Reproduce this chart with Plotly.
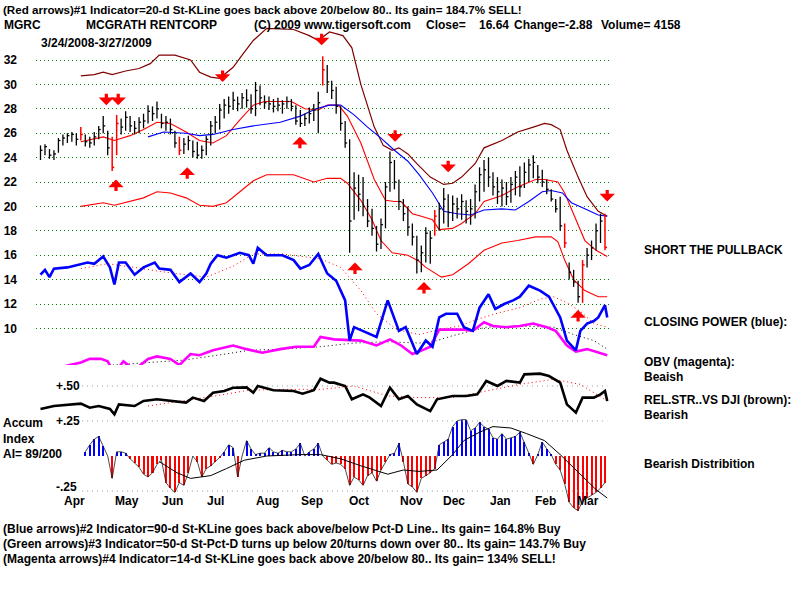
import plotly.graph_objects as go

# ---------------- data (trading-day index 0 = 3/24/2008 ... 253 = 3/27/2009) ----------------
bar_day = list(range(0, 253, 2))
bar_high = [25.0,25.1,24.7,24.6,25.6,25.9,26.0,26.1,26.0,26.5,25.9,25.7,26.1,26.6,27.4,26.2,25.7,27.5,27.2,27.8,
            27.4,27.0,27.3,27.6,28.3,28.2,28.6,27.6,27.4,27.2,26.2,25.7,25.6,25.8,25.4,25.3,25.0,25.8,27.0,27.4,
            28.4,28.8,29.0,29.4,29.0,29.3,29.6,29.2,30.2,29.9,29.1,29.0,28.8,28.9,28.7,29.0,28.8,28.3,27.9,27.6,
            28.1,28.4,29.4,32.3,31.6,30.3,29.8,28.2,27.0,25.5,22.8,22.6,22.4,20.6,19.8,18.4,19.0,22.0,24.5,23.8,
            22.2,20.6,20.0,18.6,17.6,16.8,18.3,18.0,19.7,20.3,21.5,21.0,20.9,20.7,21.0,20.5,20.6,21.8,23.2,23.8,
            24.0,22.8,22.4,22.2,22.0,22.4,22.9,23.3,23.6,23.9,24.2,23.4,23.0,22.2,21.4,20.6,20.8,18.6,15.4,14.8,
            13.9,15.6,16.6,17.2,18.6,19.4,19.4]
bar_low = [23.8,24.2,23.9,23.8,24.4,25.0,25.2,25.3,25.0,25.4,24.9,24.8,25.0,25.5,26.0,24.2,22.9,24.2,25.9,26.2,
           26.1,25.9,26.0,26.4,26.8,27.0,27.2,26.4,26.2,25.9,24.8,24.2,24.3,24.6,24.0,23.9,23.9,24.2,25.0,26.0,
           26.3,27.2,27.6,27.9,27.8,28.0,28.1,27.6,27.4,28.3,28.0,27.9,27.7,27.8,27.6,28.0,27.8,26.7,26.5,26.6,
           26.8,27.0,26.0,29.9,29.3,28.8,27.6,26.2,24.8,16.2,18.9,19.6,19.2,18.3,17.6,16.3,16.5,18.2,21.2,21.4,
           19.7,18.8,17.6,16.8,14.5,14.6,15.4,15.3,17.6,18.0,18.6,18.3,18.8,19.0,18.9,18.6,18.5,19.0,20.4,21.2,
           21.6,20.9,20.2,20.0,20.1,20.3,20.9,20.8,21.5,22.0,22.3,21.9,21.6,21.0,20.4,19.5,18.0,16.6,14.0,13.4,
           12.1,12.1,15.0,15.6,16.4,17.0,16.4]
bar_close = [24.6,24.9,24.2,24.3,25.4,25.6,25.8,25.9,25.5,25.9,25.3,25.2,25.7,26.3,26.6,24.8,23.2,26.8,26.5,27.3,
             26.6,26.4,26.9,27.0,27.8,27.6,28.0,26.8,26.9,26.3,25.2,24.6,25.1,25.4,24.5,24.2,24.6,25.5,26.6,26.9,
             27.9,28.3,28.2,28.7,28.4,28.9,28.7,28.0,29.5,28.9,28.5,28.4,28.2,28.3,28.4,28.6,28.2,27.0,26.8,27.2,
             27.6,27.9,28.5,31.2,30.2,29.5,28.2,26.8,25.2,18.8,21.5,21.0,20.0,18.8,18.2,16.9,18.5,21.6,23.6,22.0,
             20.4,19.4,18.3,17.5,15.6,16.2,17.8,17.4,19.2,19.8,20.6,19.5,20.2,19.8,20.4,19.6,19.8,21.2,22.6,23.0,
             22.4,21.6,21.2,21.5,20.8,21.8,22.4,21.6,22.8,23.4,23.6,22.4,22.0,21.4,20.6,19.8,18.4,17.0,14.6,13.8,
             12.6,15.2,16.0,16.6,18.0,18.8,16.64]
red_bar_days = [18, 32, 34, 62, 126, 176, 234, 242, 252]

upper_day = [18,24,28,32,38,44,49,53,60,67,71,76,80,86,90,95,101,113,120,124,129,135,139,143,149,153,157,160,
             164,168,174,180,184,188,194,198,206,213,220,225,228,232,235,240,244,249,253]
upper_band = [30.7,30.8,31.0,30.8,31.1,31.3,31.7,32.4,32.4,32.0,31.0,30.6,30.5,31.4,32.4,33.6,34.6,34.5,34.0,33.6,
              34.3,34.0,33.0,30.0,26.5,25.0,24.6,24.8,24.3,23.5,22.4,21.8,21.9,22.4,23.5,24.8,25.4,26.1,26.5,26.8,
              26.7,26.3,24.6,22.4,20.8,19.6,19.2]
lower_day = [18,28,33,40,46,52,58,65,71,77,83,89,95,101,113,122,128,134,137,143,148,152,157,164,169,172,179,184,
             191,198,206,213,221,228,231,234,238,243,249,253]
lower_band = [20.0,20.3,20.1,20.4,20.7,21.2,21.1,20.7,20.1,20.0,20.3,21.2,22.1,22.6,22.6,22.0,22.3,22.3,21.9,20.5,
              18.9,17.2,16.2,16.0,15.5,15.0,14.2,14.4,15.3,16.4,17.0,17.2,17.5,17.5,17.1,15.6,14.0,13.1,12.6,12.6]
ma21_day = [18,28,33,40,46,52,58,65,71,77,83,89,95,100,112,118,124,128,133,137,143,149,154,158,161,166,170,175,
            178,184,188,194,198,206,213,221,225,231,234,239,243,248,253]
ma21 = [25.3,25.7,25.4,25.8,26.3,26.9,26.8,26.1,25.4,25.2,25.8,27.1,28.3,28.6,28.6,28.0,27.9,28.3,28.3,27.4,
        25.2,22.2,20.5,20.4,20.4,19.4,19.2,18.9,18.1,18.2,18.6,19.4,20.4,20.9,21.6,22.2,22.2,22.0,21.1,18.9,
        17.2,16.4,15.9]
ma50_day = [48,55,65,71,77,86,95,107,116,123,129,134,140,146,152,158,164,169,175,180,186,192,198,206,212,218,
            224,228,233,237,243,249,253]
ma50 = [25.7,26.1,26.0,25.8,25.9,26.3,26.6,26.9,27.4,28.0,28.3,28.3,27.5,26.5,25.6,24.6,23.7,22.6,21.1,19.6,
        19.4,19.3,19.7,19.8,19.7,20.4,21.2,21.3,21.1,20.3,19.8,19.3,19.2]

cp_day = [0,2,4,6,12,18,21,24,28,31,33,35,38,42,46,51,53,58,62,67,71,74,76,79,83,89,93,95,97,101,108,113,116,
          120,124,128,132,136,138,140,144,150,155,160,163,168,172,175,178,181,186,189,193,196,200,203,207,211,
          214,218,223,227,232,235,239,241,244,247,249,252,253]
closing_power = [14.4,14.8,14.2,14.9,15.0,15.3,15.4,15.3,15.9,15.0,13.6,15.4,15.4,14.4,15.0,15.4,14.9,14.8,13.8,
                 14.5,13.8,14.5,15.3,16.0,15.8,16.2,16.0,15.3,16.6,16.0,16.0,15.6,14.9,15.2,16.1,14.5,13.9,12.3,
                 9.0,10.1,9.8,9.3,12.3,9.8,10.1,7.9,9.0,8.5,10.9,11.2,11.2,10.1,9.8,11.7,12.8,11.6,12.0,12.3,12.6,
                 13.5,13.1,12.6,10.9,9.0,8.2,9.8,10.4,10.6,10.9,11.9,10.9]
cp_ma_day = [18,30,42,56,74,86,95,108,125,134,143,150,159,169,178,187,196,205,214,223,229,235,241,247,253]
cp_ma = [14.9,15.3,15.0,14.6,14.2,15.1,16.1,16.1,15.7,15.0,13.1,11.2,9.9,9.5,9.9,10.2,10.8,11.3,11.7,12.4,
         12.6,12.1,11.4,10.4,10.1]

obv_day = [0,6,12,18,22,27,30,33,37,42,48,52,58,62,67,71,77,86,92,99,107,114,122,125,131,139,143,150,156,161,
           166,169,174,178,184,189,193,198,202,208,214,220,226,230,235,239,244,248,253]
obv = [6.45,6.7,6.9,7.2,7.5,7.5,7.3,6.3,7.3,6.6,7.5,7.7,7.5,7.0,7.9,7.8,8.2,8.6,8.3,8.0,8.3,8.5,8.5,9.3,9.1,
       9.0,9.0,8.6,9.1,8.6,7.9,8.1,8.5,9.9,9.9,9.9,9.8,10.5,10.2,10.1,10.2,10.4,10.1,9.8,8.6,8.1,8.3,8.1,7.8]
obv_ma_day = [18,33,48,64,79,93,108,125,140,155,169,177,184,192,199,214,229,238,247,253]
obv_ma = [6.9,7.0,7.2,7.4,7.8,8.2,8.3,8.5,8.8,8.9,8.8,9.0,9.4,9.8,10.1,10.2,10.1,9.5,9.0,8.3]

rs_day = [0,6,18,22,26,31,33,35,42,46,52,59,65,68,73,77,82,86,92,95,97,104,113,117,122,125,129,131,136,139,
          144,147,152,156,160,164,168,174,177,184,190,195,199,204,208,214,216,223,227,232,235,239,242,247,250,
          252,253]
rel_strength = [0.336,0.357,0.374,0.345,0.357,0.336,0.298,0.369,0.357,0.393,0.405,0.393,0.381,0.417,0.393,
                0.452,0.464,0.488,0.49,0.452,0.50,0.47,0.464,0.445,0.47,0.552,0.524,0.524,0.5,0.405,0.44,0.417,
                0.357,0.488,0.405,0.429,0.369,0.321,0.405,0.429,0.429,0.44,0.536,0.5,0.536,0.524,0.583,0.588,
                0.571,0.524,0.369,0.31,0.417,0.417,0.44,0.464,0.393]
rs_ma_day = [48,64,78,93,108,125,140,155,169,184,199,214,229,241,253]
rs_ma = [0.357,0.393,0.429,0.47,0.476,0.476,0.5,0.429,0.417,0.417,0.464,0.512,0.548,0.512,0.393]

accum_day = list(range(20, 253, 2))
accum_index = [0.03,0.08,0.12,0.14,0.07,0.0,-0.16,0.03,
               0.03,0.02,-0.02,-0.05,-0.08,-0.13,-0.15,-0.12,-0.06,-0.03,
               -0.19,-0.23,-0.26,-0.19,-0.21,-0.12,0.0,-0.04,-0.15,-0.09,
               -0.07,-0.04,-0.01,0.03,0.08,0.06,-0.15,0.0,0.11,0.05,
               0.01,0.02,0.02,0.06,0.03,0.02,0.04,0.03,0.03,0.05,
               0.09,0.0,0.03,0.05,0.09,0.0,-0.03,-0.06,-0.05,-0.06,
               -0.09,-0.21,-0.15,-0.17,-0.21,-0.14,-0.12,-0.18,-0.1,-0.04,
               0.01,0.02,0.09,-0.04,-0.20,-0.22,-0.26,-0.16,-0.14,-0.12,
               -0.09,0.08,0.1,0.12,0.21,0.25,0.26,0.26,0.18,0.2,
               0.24,0.21,0.19,0.13,0.12,0.16,0.12,0.13,0.14,0.17,
               0.1,0.02,-0.06,0.01,0.1,0.05,0.01,-0.06,-0.1,-0.2,
               -0.33,-0.37,-0.39,-0.32,-0.30,-0.28,-0.26,-0.23,-0.19]
accum_ma_day = [53,61,67,76,83,91,101,116,125,134,143,155,162,169,177,184,189,196,202,210,217,225,232,241,248,253]
accum_ma = [-0.04,-0.12,-0.16,-0.14,-0.09,-0.03,0.0,0.01,0.01,-0.02,-0.07,-0.13,-0.1,-0.11,-0.1,0.01,0.11,0.17,
            0.21,0.2,0.16,0.11,0.01,-0.13,-0.24,-0.30]

lower_ref_levels = [0.5, 0.25, -0.25]
lower_ref_labels = ["+.50", "+.25", "-.25"]
lower_ref_span = [18.5, 253]

arrow_day = [29.4, 34.7, 81.3, 125.5, 158.3, 182, 253, 33.7, 65.5, 115.8, 140.4, 171.2, 240]
arrow_tip = [28.3, 28.3, 30.2, 33.2, 25.3, 22.8, 20.4, 22.2, 23.2, 25.7, 15.4, 13.8, 11.5]
arrow_dir = ["down"] * 7 + ["up"] * 6

price_ticks = [10, 12, 14, 16, 18, 20, 22, 24, 26, 28, 30, 32]
month_labels = ["Apr", "May", "Jun", "Jul", "Aug", "Sep", "Oct", "Nov", "Dec", "Jan", "Feb", "Mar"]
month_pos = [15.2, 38.4, 58.9, 78.1, 101.3, 121.4, 142, 165.6, 184.4, 205.4, 225.4, 244.2]

FONT = "Liberation Sans"

# ---------------- figure ----------------
fig = go.Figure()

def line(xd, yd, color, width, dash="solid", yaxis="y"):
    fig.add_trace(go.Scatter(x=xd, y=yd, mode="lines", yaxis=yaxis, hoverinfo="skip",
                             line=dict(color=color, width=width, dash=dash)))

bx, by, rx, ry = [], [], [], []
for d, h, l, c in zip(bar_day, bar_high, bar_low, bar_close):
    xs, ys = (rx, ry) if d in red_bar_days else (bx, by)
    xs += [d, d, None, d, d + 0.9, None]
    ys += [l, h, None, c, c, None]

line(upper_day, upper_band, "#800000", 1.2)
line(lower_day, lower_band, "#ff0000", 1.1)
line(ma21_day, ma21, "#ff0000", 1.1)
line(ma50_day, ma50, "#0000ff", 1.1)
line(bx, by, "black", 1.3)
line(rx, ry, "#ff0000", 1.5)

line(cp_ma_day, cp_ma, "#ff0000", 1, "1px,3px")
line(obv_ma_day, obv_ma, "black", 1, "1px,3px")
line(obv_day, obv, "#ff00ff", 2.6)
line(cp_day, closing_power, "#0000ff", 2.6)

# lower panel
for lv in lower_ref_levels:
    line(lower_ref_span, [lv, lv], "#999999", 1, "1px,4px", "y2")
fig.add_trace(go.Bar(x=accum_day, y=accum_index, yaxis="y2", width=0.9, hoverinfo="skip",
                     marker=dict(color=["#0000ff" if v > 0 else "#ff0000" for v in accum_index], line_width=0)))
line(accum_day, accum_index, "#202020", 0.8, yaxis="y2")
line(accum_ma_day, accum_ma, "black", 1, yaxis="y2")
line(rs_ma_day, rs_ma, "#ff0000", 1, "1px,3px", "y2")
line(rs_day, rel_strength, "black", 2.6, yaxis="y2")

annotations = []
for d, t, s in zip(arrow_day, arrow_tip, arrow_dir):
    annotations.append(dict(x=d, y=t, xref="x", yref="y", ax=0, ay=(-13 if s == "down" else 13),
                            showarrow=True, arrowhead=1, arrowsize=0.8, arrowwidth=3.2,
                            arrowcolor="#ff0000", text=""))

for pos, m in zip(month_pos, month_labels):
    annotations.append(dict(x=pos, y=1 - 501 / 600, xref="x", yref="paper", xanchor="center",
                            yanchor="middle", text="<b>" + m + "</b>", showarrow=False,
                            font=dict(family=FONT, size=12, color="black")))

def txt(xp, yp, s, size=12):
    annotations.append(dict(xref="paper", yref="paper", x=xp / 800, y=1 - yp / 600, xanchor="left",
                            yanchor="middle", text="<b>" + s + "</b>", showarrow=False,
                            font=dict(family=FONT, size=size, color="black")))

txt(1, 9, "(Red arrows)#1 Indicator=20-d St-KLine goes back above 20/below 80.. Its gain= 184.7% SELL!", 11.6)
txt(2, 25, "MGRC")
txt(84, 25, "MCGRATH RENTCORP")
txt(252, 25, "(C) 2009 www.tigersoft.com")
txt(424, 25, "Close=")
txt(477, 25, "16.64")
txt(512, 25, "Change=-2.88")
txt(599, 25, "Volume= 4158")
txt(39, 43, "3/24/2008-3/27/2009")
txt(1, 529, "(Blue arrows)#2 Indicator=90-d St-KLine goes back above/below Pct-D Line.. Its gain= 164.8% Buy")
txt(1, 544, "(Green arrows)#3 Indicator=50-d St-Pct-D turns up below 20/turns down over 80.. Its gain= 143.7% Buy")
txt(1, 559, "(Magenta arrows)#4 Indicator=14-d St-KLine goes back above 20/below 80.. Its gain= 134% SELL!")
txt(642, 250, "SHORT THE PULLBACK")
txt(642, 322, "CLOSING POWER (blue):")
txt(642, 362, "OBV (magenta):")
txt(642, 377, "Beaish")
txt(642, 400, "REL.STR..VS DJI (brown):")
txt(642, 415, "Bearish")
txt(642, 464, "Bearish Distribition")
txt(1, 423, "Accum")
txt(1, 439, "Index")
txt(1, 454, "AI= 89/200")
for lv, lab in zip(lower_ref_levels, lower_ref_labels):
    annotations.append(dict(xref="paper", yref="y2", x=54 / 800, y=lv, xanchor="left", yanchor="middle",
                            text="<b>" + lab + "</b>", showarrow=False, yshift=(4 if lv < 0 else 0),
                            font=dict(family=FONT, size=12, color="black")))

# pixel mapping: price v -> y = 60 + (32 - v) * 12.2 ; lower v -> y = 456 - v * 140 ; day -> x = 40.5 + 2.24 * d
fig.update_layout(
    width=800, height=600, margin=dict(l=0, r=0, t=0, b=0),
    paper_bgcolor="white", plot_bgcolor="white", showlegend=False, bargap=0,
    annotations=annotations,
    xaxis=dict(domain=[36 / 800, 612 / 800], range=[-2.009, 255.13], anchor="y2",
               showticklabels=False, ticks="", showgrid=False, zeroline=False, showline=False),
    yaxis=dict(domain=[1 - 380 / 600, 1 - 25 / 600], range=[5.770, 34.869], tickvals=price_ticks,
               ticktext=["<b>" + str(t) + "</b>" for t in price_ticks], ticks="", ticklabelstandoff=18,
               showgrid=True, gridcolor="#008000", griddash="1px,3px", gridwidth=1, zeroline=False,
               showline=False, tickfont=dict(family=FONT, size=12, color="black")),
    yaxis2=dict(domain=[1 - 515 / 600, 1 - 365 / 600], range=[-0.4214, 0.65], showgrid=False,
                zeroline=False, showline=False, showticklabels=False, ticks=""),
)

fig.write_html("out.html")
